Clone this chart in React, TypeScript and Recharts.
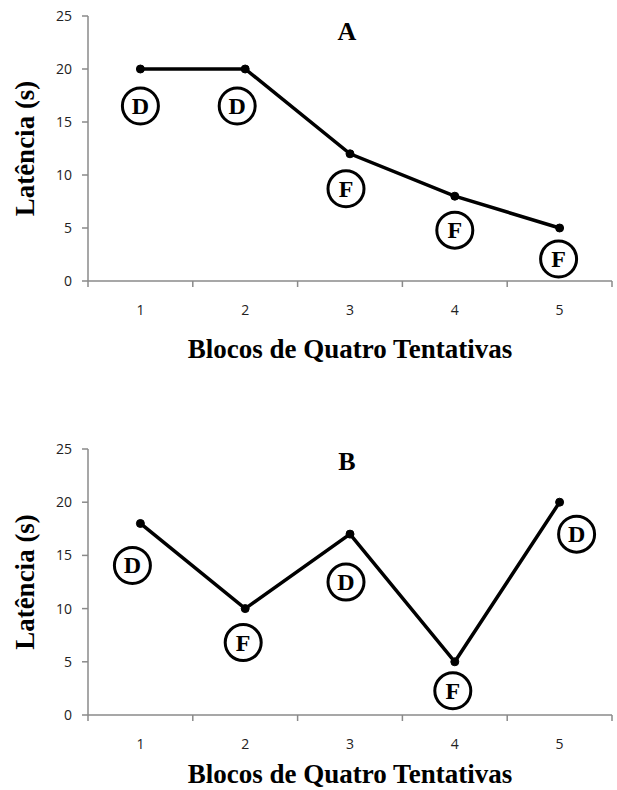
import React from "react";
import { Label, LabelList, Line, LineChart, XAxis, YAxis } from "recharts";

const blocos = [1, 2, 3, 4, 5];
const latenciaA = [20, 20, 12, 8, 5];
const condicaoA = ["D", "D", "F", "F", "F"];
const latenciaB = [18, 10, 17, 5, 20];
const condicaoB = ["D", "F", "D", "F", "D"];
const yTicks = [0, 5, 10, 15, 20, 25];

// where each circled letter sits relative to its point (px)
const badgeOffsetA = [
	[0, 37],
	[-8, 37],
	[-4, 35],
	[0, 34],
	[-1, 31],
];
const badgeOffsetB = [
	[-8, 42],
	[-2, 34],
	[-4, 48],
	[-2, 29],
	[17, 32],
];

const W = 617;
const H = 395;
const LEFT = 88;
const RIGHT = 5;
const PLOT_W = W - LEFT - RIGHT;
const AXIS = "#8a8a8a";
const SERIF = '"Liberation Serif", "Times New Roman", serif';
const SANS = '"Open Sans", "DejaVu Sans", sans-serif';

type TickProps = { x: number; y: number; index: number; payload: { value: number } };

const BlocoTick = ({ x, y, index, payload }: TickProps) => {
	const half = PLOT_W / 10;
	return (
		<g>
			{index === 0 && (
				<line x1={x - half} x2={x - half} y1={y} y2={y + 6} stroke={AXIS} strokeWidth={1.5} />
			)}
			<line x1={x + half} x2={x + half} y1={y} y2={y + 6} stroke={AXIS} strokeWidth={1.5} />
			<text x={x} y={y + 34} textAnchor="middle" fontFamily={SANS} fontSize={14} fill="#222">
				{payload.value}
			</text>
		</g>
	);
};

const makeBadge = (offsets: number[][]) => (p: any) => {
	const [dx, dy] = offsets[p.index] ?? [0, 34];
	const cx = Number(p.x) + dx;
	const cy = Number(p.y) + dy;
	return (
		<g>
			<circle cx={cx} cy={cy} r={18} fill="#fff" stroke="#000" strokeWidth={3} />
			<text
				x={cx}
				y={cy + 8}
				textAnchor="middle"
				fontFamily={SERIF}
				fontWeight="bold"
				fontSize={24}
				fill="#000"
			>
				{p.value}
			</text>
		</g>
	);
};

type PanelProps = {
	values: number[];
	conds: string[];
	offsets: number[][];
	title: string;
	top: number;
	bottom: number;
	xTitleOffset: number;
	titleY: number;
};

const Panel = ({ values, conds, offsets, title, top, bottom, xTitleOffset, titleY }: PanelProps) => {
	const data = blocos.map((b, i) => ({ bloco: b, latencia: values[i], cond: conds[i] }));
	return (
		<div style={{ position: "relative", width: W, height: H }}>
			<LineChart width={W} height={H} data={data} margin={{ top, right: RIGHT, left: 0, bottom: 0 }}>
				<XAxis
					dataKey="bloco"
					type="number"
					domain={[0.5, 5.5]}
					ticks={blocos}
					height={bottom}
					tickLine={false}
					tickSize={0}
					tickMargin={0}
					axisLine={{ stroke: AXIS, strokeWidth: 1.5 }}
					tick={(p: any) => <BlocoTick {...p} />}
				>
					<Label
						value="Blocos de Quatro Tentativas"
						position="insideBottom"
						offset={xTitleOffset}
						style={{ fontFamily: SERIF, fontWeight: "bold", fontSize: 27, fill: "#000" }}
					/>
				</XAxis>
				<YAxis
					width={LEFT}
					domain={[0, 25]}
					ticks={yTicks}
					tickSize={6}
					tickMargin={10}
					axisLine={{ stroke: AXIS, strokeWidth: 1.5 }}
					tickLine={{ stroke: AXIS, strokeWidth: 1.5 }}
					tick={{ fontFamily: SANS, fontSize: 14, fill: "#222" }}
				>
					<Label
						value="Latência (s)"
						angle={-90}
						position="insideLeft"
						offset={24}
						style={{ textAnchor: "middle", fontFamily: SERIF, fontWeight: "bold", fontSize: 27, fill: "#000" }}
					/>
				</YAxis>
				<Line
					dataKey="latencia"
					stroke="#000"
					strokeWidth={3.5}
					dot={{ r: 4, fill: "#000", stroke: "#000", strokeWidth: 1 }}
					isAnimationActive={false}
				>
					<LabelList dataKey="cond" content={makeBadge(offsets)} />
				</Line>
			</LineChart>
			<div
				style={{
					position: "absolute",
					left: 297,
					width: 100,
					top: titleY - 15,
					lineHeight: "30px",
					textAlign: "center",
					fontFamily: SERIF,
					fontWeight: "bold",
					fontSize: 26,
				}}
			>
				{title}
			</div>
		</div>
	);
};

export default function App() {
	return (
		<div style={{ position: "absolute", left: 0, top: 0, width: W, height: 790, background: "#fff" }}>
			<Panel
				values={latenciaA}
				conds={condicaoA}
				offsets={badgeOffsetA}
				title="A"
				top={16}
				bottom={114}
				xTitleOffset={37}
				titleY={32}
			/>
			<Panel
				values={latenciaB}
				conds={condicaoB}
				offsets={badgeOffsetB}
				title="B"
				top={54}
				bottom={75}
				xTitleOffset={7}
				titleY={67}
			/>
		</div>
	);
}
